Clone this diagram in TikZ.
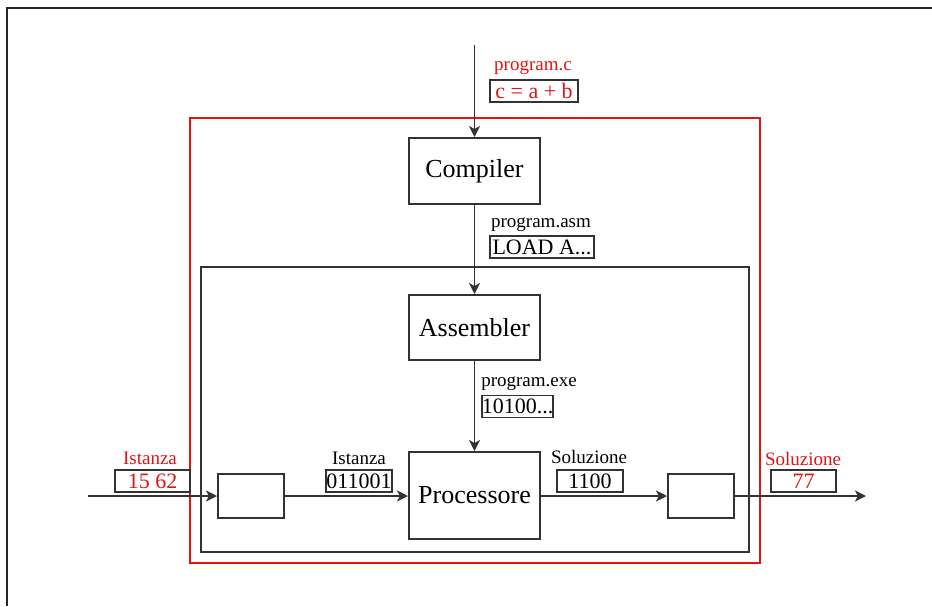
\documentclass[tikz,border=0pt]{standalone}
\usepackage{fontspec}
\setmainfont{Liberation Serif}
\usetikzlibrary{arrows.meta}
\definecolor{redl}{RGB}{225,20,20}
\definecolor{ink}{RGB}{50,50,50}
\begin{document}
\begin{tikzpicture}[x=1pt,y=-1pt,
  blk/.style={draw=ink,line width=2pt,fill=white,inner sep=0pt,font=\fontsize{26}{28}\selectfont},
  tag/.style={draw=ink,line width=1.6pt,inner sep=0pt,minimum height=22pt,font=\fontsize{22}{23}\selectfont},
  lbl/.style={inner sep=0pt,font=\fontsize{19}{20}\selectfont},
  arr/.style={draw=ink,line width=1.9pt,-{Stealth[length=11pt,width=11pt,inset=3pt]}}]
\useasboundingbox (0,0) rectangle (932,606);
% frame lines of the page
\draw[line width=2pt,black!85] (7,606) -- (7,8) -- (932,8);
% outer red and inner black frames
\draw[redl,line width=1.9pt] (190,118) rectangle (760,563);
\draw[ink,line width=1.9pt] (201,267) rectangle (749,552);
% blocks
\node[blk,minimum width=131pt,minimum height=66pt] (comp) at (474.5,171) {Compiler};
\node[blk,minimum width=131pt,minimum height=65pt] (asm) at (474.5,327.5) {Assembler};
\node[blk,minimum width=131pt,minimum height=87pt] (proc) at (474.5,495.5) {Processore};
\node[blk,minimum width=66pt,minimum height=44pt] (lbox) at (251,496) {};
\node[blk,minimum width=66pt,minimum height=44pt] (rbox) at (701,496) {};
\coordinate (src) at (474.5,45);
\coordinate (inp) at (88,496);
\coordinate (outp) at (866,496);
% connectors
\draw[arr] (src) -- (comp);
\draw[arr] (comp) -- (asm);
\draw[arr] (asm) -- (proc);
\draw[arr] (inp) -- (lbox);
\draw[arr] (lbox) -- (proc.west |- lbox.east);
\draw[arr] (proc.east |- rbox.west) -- (rbox);
\draw[arr] (rbox) -- (outp);
% labels
\node[lbl,text=redl] (l1) at (533,68) {program.c};
\node[tag,text=redl,minimum width=88pt] (t1) at (534,91) {c = a + b};
\node[lbl] (l2) at (541,225) {program.asm};
\node[tag,minimum width=104pt] (t2) at (542,247) {LOAD A...};
\node[lbl] (l3) at (529,384) {program.exe};
\node[tag,minimum width=71pt] (t3) at (517.5,406.5) {10100...};
\node[lbl,text=redl] (l4) at (150,458) {Istanza};
\node[tag,text=redl,minimum width=75pt] (t4) at (152.5,481) {15 62};
\node[lbl] (l5) at (359,458) {Istanza};
\node[tag,minimum width=66pt] (t5) at (359,481) {011001};
\node[lbl] (l6) at (589,457) {Soluzione};
\node[tag,minimum width=66pt] (t6) at (590,481) {1100};
\node[lbl,text=redl] (l7) at (803,459) {Soluzione};
\node[tag,text=redl,minimum width=65pt] (t7) at (803.5,481) {77};
\end{tikzpicture}
\end{document}
